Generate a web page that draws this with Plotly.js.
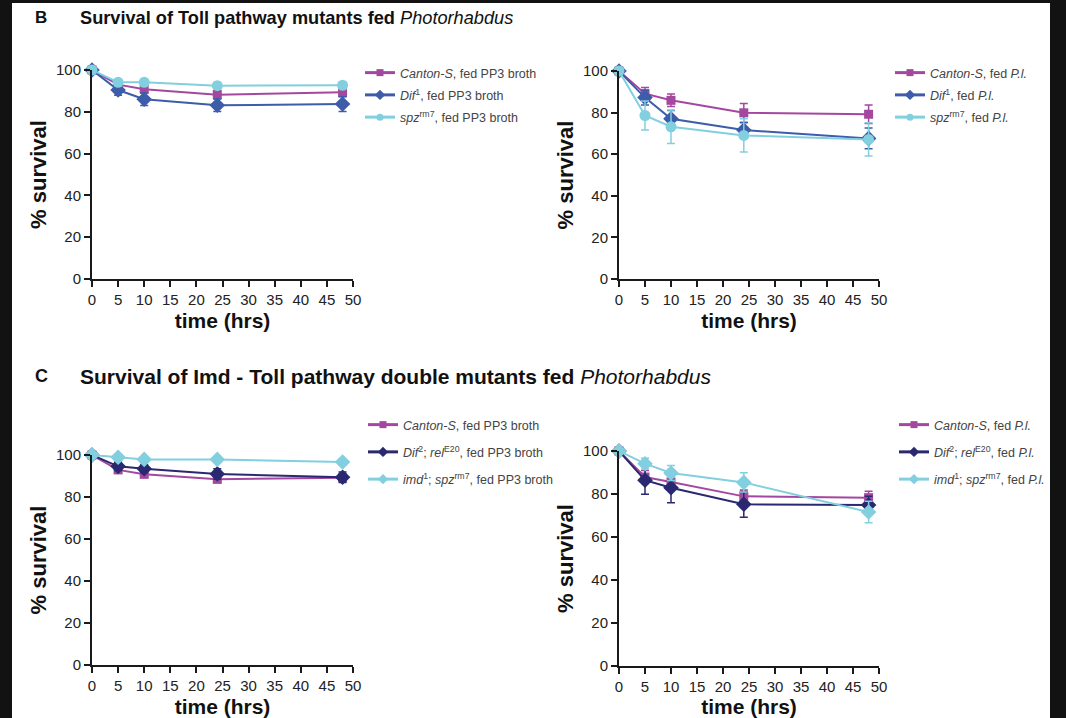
<!DOCTYPE html>
<html>
<head>
<meta charset="utf-8">
<script src="https://cdn.plot.ly/plotly-3.0.1.min.js"></script>
<style>
  html, body { margin: 0; padding: 0; background: #121212; width: 1066px; height: 718px; overflow: hidden; }
  #chart { position: absolute; left: 12px; top: 3px; width: 1038px; height: 715px; }
</style>
</head>
<body>
<div id="chart"></div>
<script>
// ---- data ----
const timeHrs = [0, 5, 10, 24, 48];

// Panel B, left: fed PP3 broth
const bL_canton = [100, 93, 90.8, 88.2, 89.3];
const bL_canton_err = [0, 1.5, 1.5, 2, 2];
const bL_dif = [100, 90.4, 86, 83.1, 83.7];
const bL_dif_err = [0, 2.5, 3, 3, 3.5];
const bL_spz = [100, 94.1, 94.1, 92.5, 92.7];
const bL_spz_err = [0, 1.5, 1.5, 1.5, 1.5];

// Panel B, right: fed P.l.
const bR_canton = [100, 89.1, 85.9, 79.9, 79.2];
const bR_canton_err = [0, 3, 3, 4.5, 4.5];
const bR_dif = [100, 87.2, 77, 71.6, 67.6];
const bR_dif_err = [0, 3.5, 4, 3.5, 5];
const bR_spz = [100, 78.6, 73.2, 69, 67.1];
const bR_spz_err = [0, 7, 8, 8, 8];

// Panel C, left: fed PP3 broth
const cL_canton = [100, 92.9, 90.8, 88.4, 89.2];
const cL_canton_err = [0, 1.5, 1.5, 1.5, 1.5];
const cL_difrel = [100, 94.6, 93.5, 91, 89.4];
const cL_difrel_err = [0, 2, 2, 2.5, 2.5];
const cL_imdspz = [100, 98.9, 97.9, 97.9, 96.7];
const cL_imdspz_err = [0, 1, 1, 1, 1.5];

// Panel C, right: fed P.l.
const cR_canton = [100, 87.9, 85.6, 78.9, 78.3];
const cR_canton_err = [0, 3, 3, 3, 3];
const cR_difrel = [100, 86.4, 82.9, 75.2, 74.9];
const cR_difrel_err = [0, 6.5, 7, 6, 4];
const cR_imdspz = [100, 94.1, 89.8, 85.4, 71.6];
const cR_imdspz_err = [0, 2.5, 3.5, 4.5, 5];

const xTickVals = [0, 5, 10, 15, 20, 25, 30, 35, 40, 45, 50];
const yTickVals = [0, 20, 40, 60, 80, 100];

const names = {
  bL: ['<i>Canton-S</i>, fed PP3 broth', '<i>Dif</i><sup>1</sup>, fed PP3 broth', '<i>spz</i><sup>rm7</sup>, fed PP3 broth'],
  bR: ['<i>Canton-S</i>, fed <i>P.l.</i>', '<i>Dif</i><sup>1</sup>, fed <i>P.l.</i>', '<i>spz</i><sup>rm7</sup>, fed <i>P.l.</i>'],
  cL: ['<i>Canton-S</i>, fed PP3 broth', '<i>Dif</i><sup>2</sup>; <i>rel</i><sup>E20</sup>, fed PP3 broth', '<i>imd</i><sup>1</sup>; <i>spz</i><sup>rm7</sup>, fed PP3 broth'],
  cR: ['<i>Canton-S</i>, fed <i>P.l.</i>', '<i>Dif</i><sup>2</sup>; <i>rel</i><sup>E20</sup>, fed <i>P.l.</i>', '<i>imd</i><sup>1</sup>; <i>spz</i><sup>rm7</sup>, fed <i>P.l.</i>']
};

// ---- styling ----
const MAGENTA = '#a4489f';
const BLUE = '#3d5ca9';
const NAVY = '#2a2870';
const CYAN = '#82cfdf';
const FONT = '"Liberation Sans", Arial, sans-serif';

// page-pixel helpers (div starts at 12,3 and is 1038x715)
const W = 1038, H = 715, OX = 12, OY = 3;
const px = x => (x - OX) / W;
const py = y => 1 - (y - OY) / H;

function tr(x, y, err, color, symbol, size, xa, ya) {
  return {
    type: 'scatter', mode: 'lines+markers',
    x: x, y: y, showlegend: false,
    xaxis: xa, yaxis: ya,
    line: { color: color, width: 2 },
    marker: { color: color, symbol: symbol, size: size },
    error_y: { type: 'data', array: err, visible: true, color: color, thickness: 1.5, width: 4 },
    cliponaxis: false
  };
}
// legend-only entry (small marker on a thick line, as in the reference key)
function key(name, color, symbol, size, xa, ya, legend, group) {
  return {
    type: 'scatter', mode: 'lines+markers', x: [null], y: [null],
    name: name, xaxis: xa, yaxis: ya, legend: legend, legendgroup: group,
    line: { color: color, width: 3 },
    marker: { color: color, symbol: symbol, size: size }
  };
}

const data = [
  tr(timeHrs, bL_canton, bL_canton_err, MAGENTA, 'square', 9, 'x', 'y'),
  tr(timeHrs, bL_dif, bL_dif_err, BLUE, 'diamond', 12, 'x', 'y'),
  tr(timeHrs, bL_spz, bL_spz_err, CYAN, 'circle', 11, 'x', 'y'),

  tr(timeHrs, bR_canton, bR_canton_err, MAGENTA, 'square', 9, 'x2', 'y2'),
  tr(timeHrs, bR_dif, bR_dif_err, BLUE, 'diamond', 12, 'x2', 'y2'),
  tr(timeHrs, bR_spz, bR_spz_err, CYAN, 'circle', 11, 'x2', 'y2'),

  tr(timeHrs, cL_canton, cL_canton_err, MAGENTA, 'square', 9, 'x3', 'y3'),
  tr(timeHrs, cL_difrel, cL_difrel_err, NAVY, 'diamond', 12, 'x3', 'y3'),
  tr(timeHrs, cL_imdspz, cL_imdspz_err, CYAN, 'diamond', 12, 'x3', 'y3'),

  tr(timeHrs, cR_canton, cR_canton_err, MAGENTA, 'square', 9, 'x4', 'y4'),
  tr(timeHrs, cR_difrel, cR_difrel_err, NAVY, 'diamond', 12, 'x4', 'y4'),
  tr(timeHrs, cR_imdspz, cR_imdspz_err, CYAN, 'diamond', 12, 'x4', 'y4'),

  key(names.bL[0], MAGENTA, 'square', 7, 'x', 'y', 'legend', 'a1'),
  key(names.bL[1], BLUE, 'diamond', 8, 'x', 'y', 'legend', 'a2'),
  key(names.bL[2], CYAN, 'circle', 7, 'x', 'y', 'legend', 'a3'),
  key(names.bR[0], MAGENTA, 'square', 7, 'x2', 'y2', 'legend2', 'b1'),
  key(names.bR[1], BLUE, 'diamond', 8, 'x2', 'y2', 'legend2', 'b2'),
  key(names.bR[2], CYAN, 'circle', 7, 'x2', 'y2', 'legend2', 'b3'),
  key(names.cL[0], MAGENTA, 'square', 7, 'x3', 'y3', 'legend3', 'c1'),
  key(names.cL[1], NAVY, 'diamond', 8, 'x3', 'y3', 'legend3', 'c2'),
  key(names.cL[2], CYAN, 'diamond', 8, 'x3', 'y3', 'legend3', 'c3'),
  key(names.cR[0], MAGENTA, 'square', 7, 'x4', 'y4', 'legend4', 'd1'),
  key(names.cR[1], NAVY, 'diamond', 8, 'x4', 'y4', 'legend4', 'd2'),
  key(names.cR[2], CYAN, 'diamond', 8, 'x4', 'y4', 'legend4', 'd3')
];

function xax(d0, d1, anchor) {
  return {
    domain: [px(d0), px(d1)], anchor: anchor, range: [0, 50],
    tickmode: 'array', tickvals: xTickVals,
    showline: true, linecolor: '#1a1a1a', linewidth: 2,
    ticks: 'outside', ticklen: 6, tickwidth: 2, tickcolor: '#1a1a1a',
    showgrid: false, zeroline: false,
    tickfont: { family: FONT, size: 15, color: '#222' },
    title: { text: '<b>time (hrs)</b>', font: { family: FONT, size: 21, color: '#111' }, standoff: 6 }
  };
}
function yax(top, bottom, anchor) {
  return {
    domain: [py(bottom), py(top)], anchor: anchor, range: [0, 100],
    tickmode: 'array', tickvals: yTickVals,
    showline: true, linecolor: '#1a1a1a', linewidth: 2,
    ticks: 'outside', ticklen: 6, tickwidth: 2, tickcolor: '#1a1a1a',
    showgrid: false, zeroline: false,
    tickfont: { family: FONT, size: 15, color: '#222' },
    title: { text: '<b>% survival</b>', font: { family: FONT, size: 22, color: '#111' }, standoff: 3 }
  };
}
function leg(x, y, gap) {
  return {
    x: px(x), y: py(y), xanchor: 'left', yanchor: 'top',
    bgcolor: 'rgba(0,0,0,0)', borderwidth: 0,
    font: { family: FONT, size: 12.5, color: '#444' },
    tracegroupgap: gap, itemsizing: 'trace', itemwidth: 30
  };
}

const layout = {
  width: W, height: H,
  margin: { l: 0, r: 0, t: 0, b: 0 },
  paper_bgcolor: '#ffffff', plot_bgcolor: '#ffffff',
  font: { family: FONT, color: '#222' },
  xaxis: xax(92, 353, 'y'),
  yaxis: yax(70, 279, 'x'),
  xaxis2: xax(619, 879, 'y2'),
  yaxis2: yax(71, 279, 'x2'),
  xaxis3: xax(92, 353, 'y3'),
  yaxis3: yax(455, 665, 'x3'),
  xaxis4: xax(619, 879, 'y4'),
  yaxis4: yax(451, 666, 'x4'),
  legend: leg(360, 58, 3),
  legend2: leg(890, 58, 3),
  legend3: leg(363, 410, 8),
  legend4: leg(894, 410, 8),
  annotations: [
    { text: '<b>B</b>', x: px(41), y: py(18), xref: 'paper', yref: 'paper', showarrow: false, xanchor: 'center', yanchor: 'middle', font: { family: FONT, size: 17, color: '#111' } },
    { text: '<b>Survival of Toll pathway mutants fed </b><i>Photorhabdus</i>', x: px(78), y: py(18), xref: 'paper', yref: 'paper', showarrow: false, xanchor: 'left', yanchor: 'middle', font: { family: FONT, size: 18.2, color: '#111' } },
    { text: '<b>C</b>', x: px(41), y: py(376), xref: 'paper', yref: 'paper', showarrow: false, xanchor: 'center', yanchor: 'middle', font: { family: FONT, size: 18, color: '#111' } },
    { text: '<b>Survival of Imd - Toll pathway double mutants fed </b><i>Photorhabdus</i>', x: px(78), y: py(376), xref: 'paper', yref: 'paper', showarrow: false, xanchor: 'left', yanchor: 'middle', font: { family: FONT, size: 21, color: '#111' } }
  ]
};

Plotly.newPlot('chart', data, layout, { displayModeBar: false, staticPlot: true });
</script>
</body>
</html>
